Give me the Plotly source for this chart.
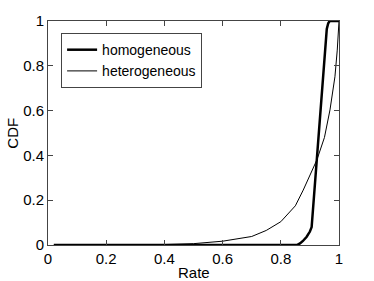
import plotly.graph_objects as go

# homogeneous CDF
homo_x = [0.02, 0.5, 0.8, 0.855, 0.866, 0.876, 0.889, 0.9, 0.906, 0.923, 0.94, 0.952, 0.958, 0.963, 0.968, 1.0]
homo_y = [0.0, 0.0, 0.0, 0.0, 0.007, 0.018, 0.037, 0.06, 0.08, 0.38, 0.66, 0.87, 0.965, 0.99, 1.0, 1.0]

# heterogeneous CDF
hetero_x = [0.02, 0.3, 0.4, 0.5, 0.6, 0.7, 0.75, 0.8, 0.85, 0.877, 0.9, 0.924, 0.95, 0.969, 0.986, 0.994, 1.0]
hetero_y = [0.0, 0.0, 0.002, 0.006, 0.017, 0.038, 0.065, 0.104, 0.175, 0.245, 0.31, 0.38, 0.48, 0.603, 0.751, 0.87, 1.0]

tick_vals = [0, 0.2, 0.4, 0.6, 0.8, 1]
tick_text = ["0", "0.2", "0.4", "0.6", "0.8", "1"]

FONT = "Liberation Sans, Arial, Helvetica, sans-serif"

fig = go.Figure()
fig.add_trace(go.Scatter(x=homo_x, y=homo_y, mode="lines", name="homogeneous",
                         line=dict(color="black", width=2.5)))
fig.add_trace(go.Scatter(x=hetero_x, y=hetero_y, mode="lines", name="heterogeneous",
                         line=dict(color="black", width=1)))

axis_common = dict(
    showgrid=False, zeroline=False, showline=True, linecolor="#444", linewidth=1,
    mirror="ticks", ticks="inside", ticklen=5, tickcolor="#444",
    tickfont=dict(family=FONT, size=15, color="black"),
    tickvals=tick_vals, ticktext=tick_text, automargin=False,
    range=[0, 1],
)

fig.update_layout(
    width=374, height=281,
    margin=dict(l=48, r=35, t=21, b=36),
    paper_bgcolor="white", plot_bgcolor="white",
    font=dict(family=FONT, size=15, color="black"),
    xaxis=dict(**axis_common),
    yaxis=dict(**axis_common),
    legend=dict(x=0.045, y=0.946, xanchor="left", yanchor="top",
                bordercolor="#444", borderwidth=1, bgcolor="white",
                font=dict(family=FONT, size=14), tracegroupgap=0, itemwidth=30),
    showlegend=True,
    annotations=[
        dict(text="Rate", xref="paper", yref="paper", x=0.5, y=-0.075,
             xanchor="center", yanchor="top", showarrow=False,
             font=dict(family=FONT, size=15, color="black")),
        dict(text="CDF", xref="paper", yref="paper", x=-0.125, y=0.5,
             xanchor="center", yanchor="middle", showarrow=False, textangle=-90,
             font=dict(family=FONT, size=15, color="black")),
    ],
)

fig.write_html("out.html", config={"displayModeBar": False},
               post_script="document.body.style.margin='0';document.body.style.padding='0';")
